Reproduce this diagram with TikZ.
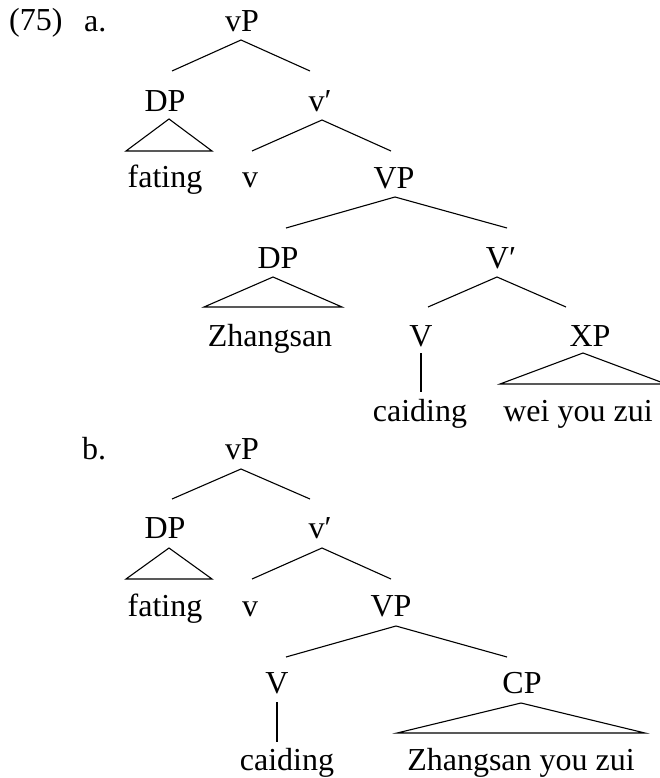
\documentclass[tikz,border=0pt]{standalone}
\usepackage{fontspec}
\setmainfont{Liberation Serif}
\usetikzlibrary{calc}
% two branches hanging from a parent label: #2 apex offset, #3/#4 branch ends
\newcommand\treefork[4]{%
  \coordinate (#1-top) at ($(#1.base)+#2$);
  \draw[edge] ($(#1-top)+#3$) -- (#1-top) -- ($(#1-top)+#4$);}
% triangle (roof) under a phrase label
\newcommand\treeroof[4]{%
  \coordinate (#1-top) at ($(#1.base)+#2$);
  \draw[edge] (#1-top) -- ($(#1-top)+#3$) -- ($(#1-top)+#4$) -- cycle;}
% single vertical stem under a head label
\newcommand\treestem[3]{%
  \coordinate (#1-top) at ($(#1.base)+#2$);
  \draw[edge] (#1-top) -- ($(#1-top)+#3$);}
\begin{document}
\begin{tikzpicture}[x=1pt,y=-1pt,
  lab/.style={inner sep=0pt, anchor=base, font=\fontsize{32}{38}\selectfont},
  edge/.style={line width=1.1pt, line join=miter}]
\useasboundingbox (0,0) rectangle (660,778);

% ---------- (75a) ----------
\node[lab, anchor=base west] (ex)   at (9,31)  {(75)};
\node[lab, anchor=base west] (la)   at (84,32) {a.};
\node[lab] (vPa)    at (242,32)  {vP};
\node[lab] (DPa)    at (165,112) {DP};
\node[lab] (vbara)  at (320,112) {v′};
\node[lab] (fatinga) at (165,187) {fating};
\node[lab] (va)     at (250,187) {v};
\node[lab] (VPa)    at (394,188) {VP};
\node[lab] (DPsa)   at (278,268) {DP};
\node[lab] (Vbara)  at (501,268) {V′};
\node[lab] (Zhangsana) at (270,346) {Zhangsan};
\node[lab] (Va)     at (421,346) {V};
\node[lab] (XPa)    at (590,346) {XP};
\node[lab] (caidinga) at (420,421) {caiding};
\node[lab] (weiyouzui) at (578,421) {wei you zui};

\treefork{vPa}{(-1,8)}{(-69,31)}{(69,31)}
\treeroof{DPa}{(4,7)}{(-43,32)}{(43,32)}
\treefork{vbara}{(2,8)}{(-70,31)}{(69,31)}
\treefork{VPa}{(1,9)}{(-109,31)}{(112,31)}
\treeroof{DPsa}{(-5,9)}{(-69,30)}{(69,30)}
\treefork{Vbara}{(-4,9)}{(-69,30)}{(69,30)}
\treestem{Va}{(0,7)}{(0,39)}
\treeroof{XPa}{(-7,7)}{(-83,31)}{(83,31)}

% ---------- (75b) ----------
\node[lab, anchor=base west] (lb) at (82,459) {b.};
\node[lab] (vPb)    at (242,459) {vP};
\node[lab] (DPb)    at (165,538) {DP};
\node[lab] (vbarb)  at (320,538) {v′};
\node[lab] (fatingb) at (165,616) {fating};
\node[lab] (vb)     at (250,616) {v};
\node[lab] (VPb)    at (391,616) {VP};
\node[lab] (Vb)     at (277,693) {V};
\node[lab] (CPb)    at (522,693) {CP};
\node[lab] (caidingb) at (287,770) {caiding};
\node[lab] (Zhangsanyouzui) at (521,770) {Zhangsan you zui};

\treefork{vPb}{(-1,10)}{(-69,30)}{(69,30)}
\treeroof{DPb}{(4,10)}{(-43,31)}{(43,31)}
\treefork{vbarb}{(2,10)}{(-70,31)}{(69,31)}
\treefork{VPb}{(5,10)}{(-110,31)}{(111,31)}
\treestem{Vb}{(0,9)}{(0,40)}
\treeroof{CPb}{(-1,10)}{(-124,30)}{(124,30)}
\end{tikzpicture}
\end{document}
